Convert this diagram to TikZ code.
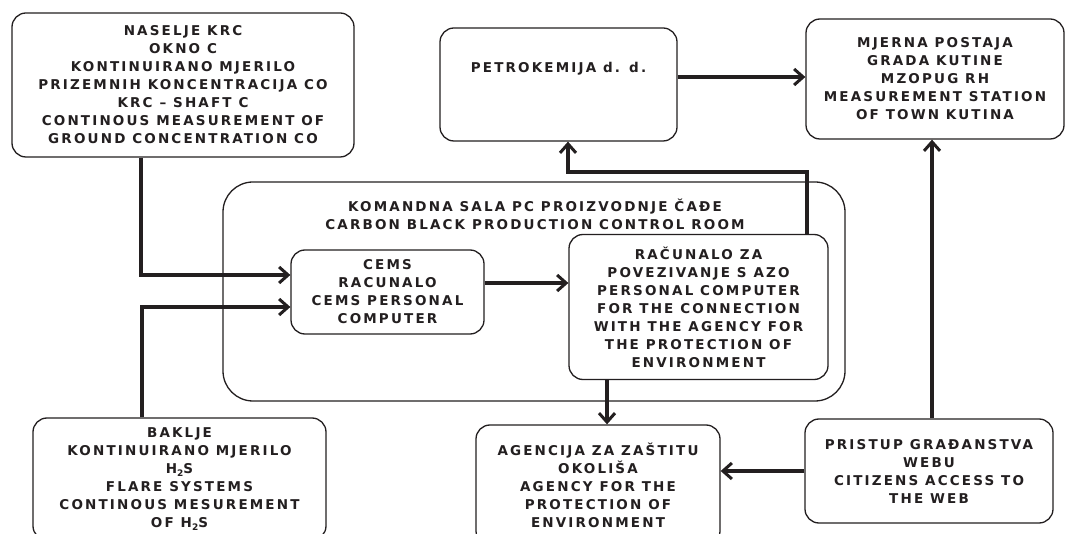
\documentclass[tikz,border=0pt]{standalone}
\usepackage{fontspec}
\setmainfont{DejaVu Sans}[LetterSpace=16]
\usetikzlibrary{arrows.meta}
\definecolor{ink}{HTML}{231F20}
\newcommand{\subtwo}{\raisebox{-2.5pt}{\fontsize{9}{9}\selectfont 2}}
\tikzset{
 txt/.style={align=center, text=ink, font=\bfseries\fontsize{13.5}{18}\selectfont, inner sep=0pt},
 box/.style={txt, draw=ink, line width=1.3pt, rounded corners=14pt},
 conn/.style={draw=ink, line width=4pt},
 arr/.style={conn, -{Straight Barb[length=9pt,width=16pt,line width=3pt]}},
}
\begin{document}
\begin{tikzpicture}[x=1pt,y=-1pt]
\clip (0,0) rectangle (1066,534);
\fill[white] (0,0) rectangle (1066,534);
\node[box, minimum width=342pt, minimum height=144pt] (krc) at (183,85)
 {NASELJE KRC\\OKNO C\\KONTINUIRANO MJERILO\\PRIZEMNIH KONCENTRACIJA CO\\KRC -- SHAFT C\\CONTINOUS MEASUREMENT OF\\GROUND CONCENTRATION CO};
\node[box, minimum width=237pt, minimum height=113pt] (petro) at (558.5,84.5)
 {PETROKEMIJA d. d.\\[17pt]\mbox{}};
\node[box, minimum width=258pt, minimum height=120pt] (mjerna) at (935,79)
 {MJERNA POSTAJA\\GRADA KUTINE\\MZOPUG RH\\MEASUREMENT STATION\\OF TOWN KUTINA};
\node[box, rounded corners=30pt, minimum width=622pt, minimum height=219pt] (room) at (534,291.5) {};
\node[txt] (roomtitle) at (535,214)
 {KOMANDNA SALA PC PROIZVODNJE ČAĐE\\CARBON BLACK PRODUCTION CONTROL ROOM};
\node[box, minimum width=193pt, minimum height=84pt] (cems) at (387.5,292)
 {CEMS\\RACUNALO\\CEMS PERSONAL\\COMPUTER};
\node[box, minimum width=259pt, minimum height=145pt] (comp) at (698.5,307)
 {RAČUNALO ZA\\POVEZIVANJE S AZO\\PERSONAL COMPUTER\\FOR THE CONNECTION\\WITH THE AGENCY FOR\\THE PROTECTION OF\\ENVIRONMENT};
\node[box, minimum width=244pt, minimum height=120pt] (agency) at (598,485)
 {AGENCIJA ZA ZAŠTITU\\OKOLIŠA\\AGENCY FOR THE\\PROTECTION OF\\ENVIRONMENT};
\node[box, minimum width=248pt, minimum height=104pt] (citizens) at (929,471)
 {PRISTUP GRAĐANSTVA\\WEBU\\CITIZENS ACCESS TO\\THE WEB};
\node[box, minimum width=293pt, minimum height=122pt] (baklje) at (179.5,479)
 {BAKLJE\\KONTINUIRANO MJERILO\\H\subtwo S\\FLARE SYSTEMS\\CONTINOUS MESUREMENT\\OF H\subtwo S};
\draw[arr] (141,0 |- krc.south) -- (141,275) -- (cems.west |- 0,275);
\draw[arr] (142,0 |- baklje.north) -- (142,307) -- (cems.west |- 0,307);
\draw[arr] (cems.east |- 0,283) -- (comp.west |- 0,283);
\draw[arr] (807,0 |- comp.north) -- (807,172) -- (568,172) -- (568,0 |- petro.south);
\draw[arr] (607,0 |- comp.south) -- (607,0 |- agency.north);
\draw[arr] (citizens.west |- 0,471) -- (agency.east |- 0,471);
\draw[arr] (932,0 |- citizens.north) -- (932,0 |- mjerna.south);
\draw[arr] (petro.east |- 0,77) -- (mjerna.west |- 0,77);
\end{tikzpicture}
\end{document}
